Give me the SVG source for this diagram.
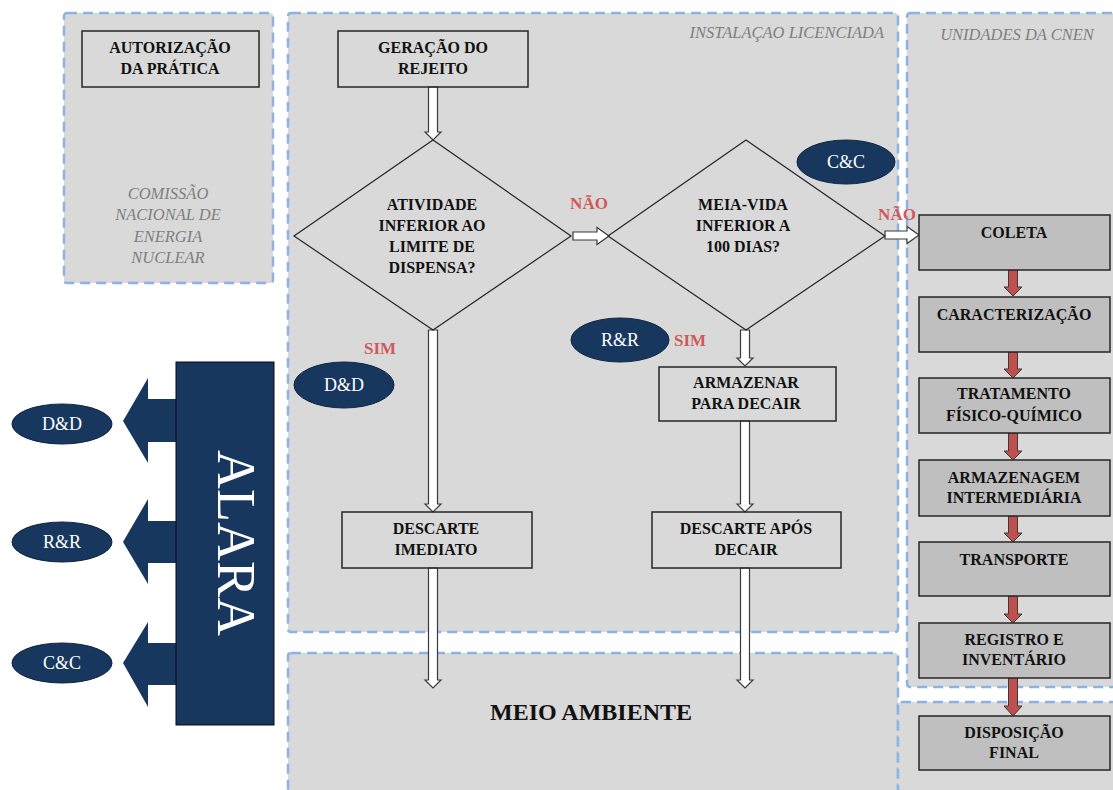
<svg xmlns="http://www.w3.org/2000/svg" width="1113" height="790" viewBox="0 0 1113 790" font-family="'Liberation Serif', 'Times New Roman', serif">
<style>
.panel{fill:#d9d9d9;stroke:#8db3e2;stroke-width:2.5;stroke-dasharray:10 6}
.box{fill:none;stroke:#262626;stroke-width:1.5}
.gbox{fill:#bfbfbf;stroke:#262626;stroke-width:1.5}
.dia{fill:none;stroke:#262626;stroke-width:1.2}
text{font-family:'Liberation Serif','Times New Roman',serif}
.t{font-weight:bold;font-size:16px;fill:#111;text-anchor:middle}
.it{font-style:italic;font-size:16.5px;fill:#7f7f7f;text-anchor:middle}
.red{font-weight:bold;font-size:17px;fill:#d05a5a;text-anchor:middle}
.ell{fill:#17375e;stroke:#0f243e;stroke-width:1}
.el{font-size:18px;fill:#fff;text-anchor:middle}
.hol{fill:#fff;stroke:#3a3a3a;stroke-width:1.2}
.rar{fill:#c0504d;stroke:#3a3a3a;stroke-width:1}
.blk{fill:#17375e}
</style>
<rect width="1113" height="790" fill="#fff"/>
<g id="panels">
<rect class="panel" x="64" y="13" width="209" height="270" rx="3"/>
<rect class="panel" x="288" y="13" width="610" height="619" rx="3"/>
<rect class="panel" x="907" y="13" width="220" height="674" rx="3"/>
<rect class="panel" x="288" y="653" width="610" height="150" rx="3"/>
<rect class="panel" x="898" y="702" width="230" height="100" rx="3"/>
</g>
<g id="panel-labels" font-family="'Liberation Serif', 'Times New Roman', serif">
<text class="it" x="884" y="38" style="text-anchor:end">INSTALAÇAO LICENCIADA</text>
<text class="it" x="1017" y="40">UNIDADES DA CNEN</text>
<text class="it" x="168" y="199">COMISSÃO</text>
<text class="it" x="168" y="220">NACIONAL DE</text>
<text class="it" x="168" y="242">ENERGIA</text>
<text class="it" x="168" y="263">NUCLEAR</text>
<text class="t" x="591" y="720" style="font-size:24px">MEIO AMBIENTE</text>
</g>
<g id="connectors">
<path class="hol" d="M428.5 87 V132 H425 L433 140 L441 132 H437.5 V87 Z"/>
<path class="hol" d="M428.5 330 V504 H425 L433 512 L441 504 H437.5 V330 Z"/>
<path class="hol" d="M428.5 568 V680 H425 L433 688 L441 680 H437.5 V568 Z"/>
<path class="hol" d="M740.5 330 V358 H737 L745 366 L753 358 H749.5 V330 Z"/>
<path class="hol" d="M740.5 421 V504 H737 L745 512 L753 504 H749.5 V421 Z"/>
<path class="hol" d="M740.5 568 V680 H737 L745 688 L753 680 H749.5 V568 Z"/>
<path class="hol" d="M573 232 H597 V227.5 L609 236 L597 244.5 V240 H573 Z"/>
<path class="hol" d="M885 231 H907 V226.5 L919 235 L907 243.5 V239 H885 Z"/>
<path class="rar" d="M1008.5 270 V287 H1004 L1013 296 L1022 287 H1017.5 V270 Z"/>
<path class="rar" d="M1008.5 352 V369 H1004 L1013 378 L1022 369 H1017.5 V352 Z"/>
<path class="rar" d="M1008.5 433 V451 H1004 L1013 460 L1022 451 H1017.5 V433 Z"/>
<path class="rar" d="M1008.5 516 V533 H1004 L1013 542 L1022 533 H1017.5 V516 Z"/>
<path class="rar" d="M1008.5 596 V614 H1004 L1013 623 L1022 614 H1017.5 V596 Z"/>
<path class="rar" d="M1008.5 678 V706 H1004 L1013 716 L1022 706 H1017.5 V678 Z"/>
<path class="blk" d="M176 399 H148 V378 L123 421 L148 463 V442 H176 Z"/>
<path class="blk" d="M176 521 H148 V499 L123 542 L148 584 V563 H176 Z"/>
<path class="blk" d="M176 643 H148 V622 L123 663 L148 707 V685 H176 Z"/>
</g>
<g id="labels" font-family="'Liberation Serif', 'Times New Roman', serif">
<text class="red" x="589" y="209">NÃO</text>
<text class="red" x="897" y="220">NÃO</text>
<text class="red" x="380" y="354">SIM</text>
<text class="red" x="690" y="346">SIM</text>
</g>
<g id="autorizacao" font-family="'Liberation Serif', 'Times New Roman', serif">
<rect class="box" x="82" y="31" width="177" height="56"/>
<text class="t" x="170" y="53">AUTORIZAÇÃO</text>
<text class="t" x="170" y="74">DA PRÁTICA</text>
</g>
<g id="geracao" font-family="'Liberation Serif', 'Times New Roman', serif">
<rect class="box" x="338" y="31" width="190" height="56"/>
<text class="t" x="433" y="53">GERAÇÃO DO</text>
<text class="t" x="433" y="74">REJEITO</text>
</g>
<g id="decisao1" font-family="'Liberation Serif', 'Times New Roman', serif">
<polygon class="dia" points="433,140 571,236 433,330 294,236"/>
<text class="t" x="432" y="210">ATIVIDADE</text>
<text class="t" x="432" y="231">INFERIOR AO</text>
<text class="t" x="432" y="252">LIMITE DE</text>
<text class="t" x="432" y="273">DISPENSA?</text>
</g>
<g id="decisao2" font-family="'Liberation Serif', 'Times New Roman', serif">
<polygon class="dia" points="746,140 885,236 746,330 608,236"/>
<text class="t" x="743" y="210">MEIA-VIDA</text>
<text class="t" x="743" y="231">INFERIOR A</text>
<text class="t" x="743" y="252">100 DIAS?</text>
</g>
<g id="armazenar" font-family="'Liberation Serif', 'Times New Roman', serif">
<rect class="box" x="659" y="367" width="177" height="54"/>
<text class="t" x="746" y="388">ARMAZENAR</text>
<text class="t" x="746" y="409">PARA DECAIR</text>
</g>
<g id="descarte-imediato" font-family="'Liberation Serif', 'Times New Roman', serif">
<rect class="box" x="342" y="512" width="190" height="56"/>
<text class="t" x="436" y="534">DESCARTE</text>
<text class="t" x="436" y="555">IMEDIATO</text>
</g>
<g id="descarte-apos" font-family="'Liberation Serif', 'Times New Roman', serif">
<rect class="box" x="652" y="512" width="189" height="56"/>
<text class="t" x="746" y="534">DESCARTE APÓS</text>
<text class="t" x="746" y="555">DECAIR</text>
</g>
<g id="cc-top" font-family="'Liberation Serif', 'Times New Roman', serif"><ellipse class="ell" cx="846" cy="162" rx="49" ry="22"/><text class="el" x="846" y="168">C&amp;C</text></g>
<g id="rr-mid" font-family="'Liberation Serif', 'Times New Roman', serif"><ellipse class="ell" cx="620" cy="340" rx="49" ry="22"/><text class="el" x="620" y="346">R&amp;R</text></g>
<g id="dd-mid" font-family="'Liberation Serif', 'Times New Roman', serif"><ellipse class="ell" cx="344" cy="385" rx="50" ry="23"/><text class="el" x="344" y="391">D&amp;D</text></g>
<g id="cnen-nodes" font-family="'Liberation Serif', 'Times New Roman', serif">
<g id="coleta"><rect class="gbox" x="919" y="215" width="191" height="55"/><text class="t" x="1014" y="238">COLETA</text></g>
<g id="caracterizacao"><rect class="gbox" x="919" y="297" width="191" height="55"/><text class="t" x="1014" y="320">CARACTERIZAÇÃO</text></g>
<g id="tratamento"><rect class="gbox" x="919" y="378" width="191" height="55"/><text class="t" x="1014" y="399">TRATAMENTO</text><text class="t" x="1014" y="421">FÍSICO-QUÍMICO</text></g>
<g id="armazenagem"><rect class="gbox" x="919" y="460" width="191" height="56"/><text class="t" x="1014" y="483">ARMAZENAGEM</text><text class="t" x="1014" y="503">INTERMEDIÁRIA</text></g>
<g id="transporte"><rect class="gbox" x="919" y="542" width="191" height="54"/><text class="t" x="1014" y="565">TRANSPORTE</text></g>
<g id="registro"><rect class="gbox" x="919" y="623" width="191" height="55"/><text class="t" x="1014" y="645">REGISTRO E</text><text class="t" x="1014" y="665">INVENTÁRIO</text></g>
<g id="disposicao"><rect class="gbox" x="919" y="716" width="191" height="54"/><text class="t" x="1014" y="738">DISPOSIÇÃO</text><text class="t" x="1014" y="758">FINAL</text></g>
</g>
<g id="alara">
<rect x="176" y="362" width="98" height="363" fill="#17375e" stroke="#0d0d0d" stroke-width="1"/>
<text transform="translate(218,543) rotate(90)" x="0" y="0" style="font-family:'Liberation Serif','Times New Roman',serif;font-size:54px;fill:#fff;text-anchor:middle">ALARA</text>
</g>
<g id="left-ellipses" font-family="'Liberation Serif', 'Times New Roman', serif">
<g id="dd-left"><ellipse class="ell" cx="62" cy="424" rx="50" ry="20"/><text class="el" x="62" y="430">D&amp;D</text></g>
<g id="rr-left"><ellipse class="ell" cx="62" cy="542" rx="50" ry="20"/><text class="el" x="62" y="548">R&amp;R</text></g>
<g id="cc-left"><ellipse class="ell" cx="62" cy="663" rx="50" ry="20"/><text class="el" x="62" y="669">C&amp;C</text></g>
</g>
</svg>
